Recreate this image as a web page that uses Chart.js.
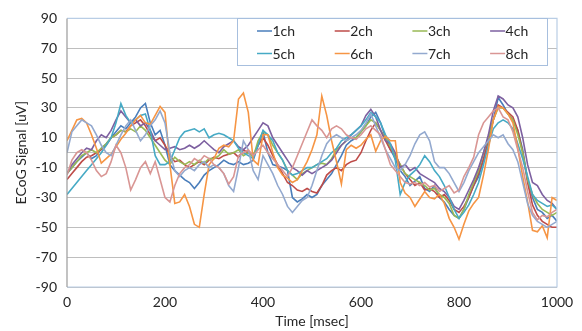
<!DOCTYPE html>
<html>
<head>
<meta charset="utf-8">
<script src="https://cdn.jsdelivr.net/npm/chart.js@4"></script>
<style>
  html, body { margin: 0; padding: 0; background: #fff; }
  #wrap { width: 582px; height: 331px; }
</style>
</head>
<body>
<div id="wrap"><canvas id="Grafica" width="582" height="331"></canvas></div>
<script>
// time axis in msec, one sample every 10 ms
const times = [
  0,10,20,30,40,50,60,70,80,90,
  100,110,120,130,140,150,160,170,180,190,
  200,210,220,230,240,250,260,270,280,290,
  300,310,320,330,340,350,360,370,380,390,
  400,410,420,430,440,450,460,470,480,490,
  500,510,520,530,540,550,560,570,580,590,
  600,610,620,630,640,650,660,670,680,690,
  700,710,720,730,740,750,760,770,780,790,
  800,810,820,830,840,850,860,870,880,890,
  900,910,920,930,940,950,960,970,980,990,
  1000];

const channels = ['1ch','2ch','3ch','4ch','5ch','6ch','7ch','8ch'];
const colors = ['#4A7EBB','#BE4B48','#98B954','#7D60A0','#46AAC5','#F69544','#93A9CF','#D99694'];

const ch1 = [
  -14,-10,-6,-3,0,-4,-2,3,6,10,
  14,18,16,20,24,30,33,20,12,15,
  5,-8,-12,-15,-18,-20,-24,-20,-15,-12,
  -10,-8,-5,-7,-8,-6,-8,-7,-5,5,
  14,0,-8,-9,-10,-12,-30,-33,-31,-28,
  -30,-28,-22,-18,-14,-8,-2,5,8,10,
  14,18,24,27,20,10,2,-4,-12,-16,
  -22,-19,-16,-24,-26,-22,-30,-33,-38,-42,
  -44,-38,-30,-22,-16,-5,10,22,37,32,
  26,22,15,2,-18,-30,-38,-40,-44,-42,
  -46];
const ch2 = [
  -18,-14,-10,-6,-3,-2,0,2,5,10,
  12,15,14,18,20,22,18,12,8,10,
  5,-2,-6,-5,-8,-10,-8,-6,-8,-5,
  -3,-4,-2,-1,0,-3,2,0,-2,5,
  10,5,-2,-8,-14,-20,-22,-25,-26,-24,
  -26,-27,-22,-15,-12,-10,-12,-8,-6,-5,
  0,8,15,20,15,8,2,-2,-8,-14,
  -18,-22,-20,-25,-24,-26,-30,-28,-32,-38,
  -40,-36,-30,-22,-14,-4,8,22,32,30,
  27,24,15,0,-20,-35,-42,-46,-48,-50,
  -50];
const ch3 = [
  -14,-10,-6,-2,0,2,0,3,6,10,
  12,15,14,16,14,18,15,10,5,0,
  -5,-8,-3,-6,-8,-6,-8,-5,-7,-4,
  -4,-2,2,-1,0,2,-2,0,-3,8,
  14,12,5,0,-5,-12,-15,-18,-14,-12,
  -10,-8,-7,-8,-4,2,5,8,10,10,
  14,18,22,20,15,10,4,-2,-8,-14,
  -16,-18,-20,-22,-25,-24,-28,-30,-34,-42,
  -44,-38,-28,-20,-12,0,10,22,30,30,
  26,22,12,0,-18,-28,-34,-38,-40,-42,
  -40];
const ch4 = [
  -14,-8,-4,0,3,2,8,12,10,15,
  22,28,24,20,22,18,20,15,8,5,
  2,3,4,2,3,5,3,5,8,5,
  2,0,4,6,8,4,2,5,10,15,
  20,18,10,5,0,-5,-10,-12,-15,-12,
  -14,-12,-10,-8,-5,0,5,8,12,15,
  18,25,29,24,15,8,6,0,-10,-8,
  -12,-10,-14,-16,-18,-20,-24,-26,-30,-36,
  -38,-32,-25,-18,-10,0,12,28,38,36,
  32,30,24,10,-8,-20,-22,-28,-32,-34,
  -38];
const ch5 = [
  -28,-24,-20,-16,-12,-8,-4,0,5,10,
  20,33,25,20,22,25,26,15,-2,-8,
  -8,-6,2,10,14,15,16,14,16,10,
  12,13,12,10,8,3,0,-2,-4,5,
  15,12,8,0,-5,-12,-15,-14,-12,-10,
  -10,-8,-6,-4,0,3,8,10,12,15,
  18,22,27,24,20,12,6,-5,-28,-20,
  -15,-12,-8,-2,-6,-12,-16,-22,-30,-38,
  -44,-40,-35,-28,-20,-8,5,16,20,22,
  20,16,6,-4,-16,-28,-32,-34,-36,-35,
  -38];
const ch6 = [
  8,15,22,23,20,12,3,-7,-4,-1,
  4,9,13,18,22,25,20,19,25,31,
  27,-8,-34,-33,-28,-36,-48,-50,-28,-8,
  -4,3,5,4,8,36,40,27,-5,-8,
  12,12,0,-10,-15,-17,-20,-18,-12,-6,
  2,12,38,25,8,-6,-21,2,5,3,
  5,9,12,1,8,11,8,8,-20,-27,
  -30,-36,-31,-26,-30,-31,-28,-34,-44,-50,
  -58,-48,-39,-34,-30,-15,2,22,31,30,
  26,20,3,-16,-33,-52,-53,-49,-57,-30,
  -32];
const ch7 = [
  0,14,18,22,20,18,12,5,0,-2,
  5,12,18,22,15,8,12,18,22,28,
  20,0,-12,-16,-12,-10,-12,-8,-6,-10,
  -8,-10,-14,-22,-26,-10,8,2,-12,-18,
  -2,-8,-14,-22,-28,-36,-40,-36,-32,-30,
  -22,-12,-2,6,10,12,10,8,10,12,
  15,20,26,18,10,2,-4,-10,-12,-8,
  -2,6,12,14,8,-6,-10,-10,-14,-20,
  -26,-20,-12,-6,0,4,8,12,10,12,
  6,2,-6,-20,-34,-42,-46,-48,-50,-48,
  -46];
const ch8 = [
  -15,-5,0,2,0,-5,-12,-16,-14,-6,
  5,0,-10,-25,-18,-10,-6,-14,-6,-18,
  -30,-33,-22,-14,-10,-8,-4,-6,-2,-4,
  -8,-10,-14,-21,-16,-2,0,2,-2,2,
  5,0,-4,-8,-12,-16,-10,-2,6,14,
  22,18,15,10,16,18,16,12,10,9,
  12,16,18,15,12,2,-8,-12,-16,-20,
  -21,-20,-22,-20,-23,-22,-26,-24,-22,-27,
  -25,-16,-10,-3,12,20,24,28,30,24,
  22,14,2,-10,-26,-40,-45,-42,-43,-40,
  -38];

const series = [ch1, ch2, ch3, ch4, ch5, ch6, ch7, ch8];
const xTicks = [0, 200, 400, 600, 800, 1000];
const yTicks = [-90, -70, -50, -30, -10, 0, 10, 30, 50, 70, 90];

const FONT = 'Lato, "Liberation Sans", sans-serif';
const TEXT = '#262626';

// plot frame in light blue, like the excel plot area
const frame = {
  id: 'frame',
  afterDraw(chart) {
    const a = chart.chartArea;
    const ctx = chart.ctx;
    ctx.save();
    ctx.strokeStyle = '#B9CDE5';
    ctx.lineWidth = 1.2;
    ctx.beginPath();
    ctx.moveTo(a.left, a.top);
    ctx.lineTo(a.right, a.top);
    ctx.lineTo(a.right, a.bottom);
    ctx.lineTo(a.left, a.bottom);
    ctx.stroke();
    ctx.strokeStyle = '#9A9A9A';
    ctx.beginPath();
    ctx.moveTo(a.left, a.top);
    ctx.lineTo(a.left, a.bottom);
    ctx.stroke();
    ctx.restore();
  }
};

// boxed legend, 4 columns x 2 rows, inside the plot
const boxLegend = {
  id: 'boxLegend',
  afterDraw(chart) {
    const ctx = chart.ctx;
    ctx.save();
    ctx.fillStyle = '#fff';
    ctx.fillRect(237.5, 18.5, 310, 47);
    ctx.strokeStyle = '#A7BFDE';
    ctx.lineWidth = 1;
    ctx.strokeRect(237.5, 18.5, 310, 47);
    ctx.font = '14px ' + FONT;
    ctx.textBaseline = 'middle';
    chart.data.datasets.forEach((ds, i) => {
      const x = 257 + (i % 4) * 77.7;
      const y = 31 + Math.floor(i / 4) * 22.5;
      ctx.strokeStyle = ds.borderColor;
      ctx.lineWidth = 1.5;
      ctx.beginPath();
      ctx.moveTo(x, y);
      ctx.lineTo(x + 15, y);
      ctx.stroke();
      ctx.fillStyle = TEXT;
      ctx.fillText(ds.label, x + 15.5, y + 0.5);
    });
    ctx.restore();
  }
};

let datasets = [];
for (let i = 0; i < channels.length; i++) {
  datasets.push({
    label: channels[i],
    data: times.map((t, k) => ({x: t, y: series[i][k]})),
    borderColor: colors[i],
    backgroundColor: colors[i],
    borderWidth: 1.6,
    pointRadius: 0,
    tension: 0,
    order: channels.length - i
  });
}

new Chart(document.getElementById('Grafica').getContext('2d'), {
  type: 'line',
  data: { datasets: datasets },
  options: {
    responsive: false,
    animation: false,
    events: [],
    layout: { padding: { left: 10, right: 25, top: 12, bottom: 0 } },
    plugins: {
      legend: { display: false },
      tooltip: { enabled: false }
    },
    scales: {
      x: {
        type: 'linear',
        min: 0, max: 1000,
        afterBuildTicks: s => { s.ticks = xTicks.map(v => ({value: v})); },
        afterFit: s => { s.height = 44; },
        grid: { display: false, drawTicks: false },
        border: { display: false },
        ticks: { color: TEXT, font: { family: FONT, size: 14 }, padding: 7, maxRotation: 0,
                 callback: v => String(v) },
        title: { display: true, text: 'Time [msec]', color: TEXT,
                 font: { family: FONT, size: 14 }, padding: { top: 0, bottom: 1 } }
      },
      y: {
        min: -90, max: 90,
        afterBuildTicks: s => { s.ticks = yTicks.map(v => ({value: v})); },
        afterFit: s => { s.width = 57; },
        grid: { color: '#BEBEBE', lineWidth: 1, drawTicks: false },
        border: { display: false },
        ticks: { color: TEXT, font: { family: FONT, size: 14 }, padding: 10,
                 callback: v => (v === 0 ? '' : String(v)) },
        title: { display: true, text: 'ECoG Signal [uV]', color: TEXT,
                 font: { family: FONT, size: 14 }, padding: { top: 3, bottom: 4 } }
      }
    }
  },
  plugins: [frame, boxLegend]
});
</script>
</body>
</html>
